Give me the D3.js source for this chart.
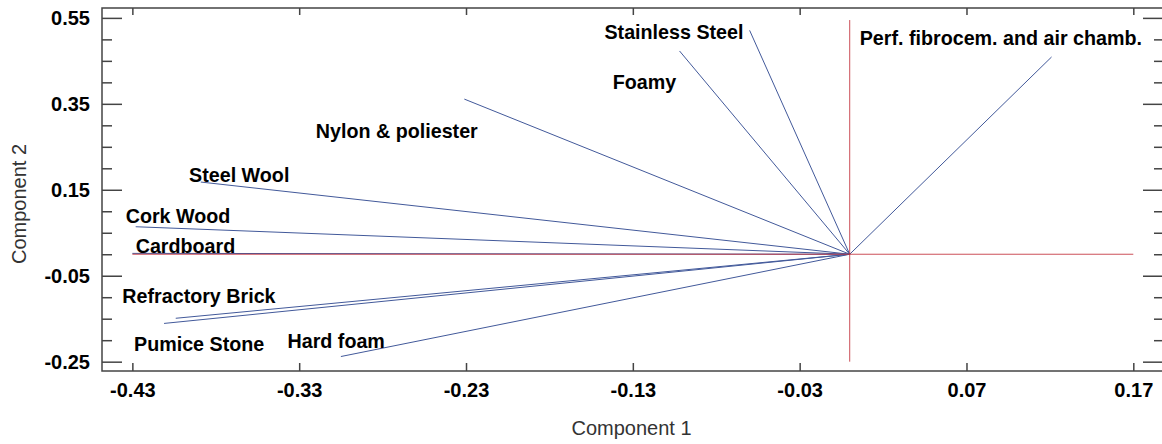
<!DOCTYPE html>
<html>
<head>
<meta charset="utf-8">
<script src="https://d3js.org/d3.v7.min.js"></script>
<style>
  body { margin: 0; background: #fff; }
  text { font-family: "Liberation Sans", Arial, sans-serif; }
</style>
</head>
<body>
<div id="biplot"></div>
<script>
//Data: loadings of each material on component 1 and 2
var materials = ["Stainless Steel", "Foamy", "Perf. fibrocem. and air chamb.", "Nylon & poliester",
    "Steel Wool", "Cork Wood", "Cardboard", "Refractory Brick", "Pumice Stone", "Hard foam"];
var comp1 = [-0.060, -0.102, 0.121, -0.231, -0.389, -0.428, -0.430, -0.404, -0.411, -0.305];
var comp2 = [0.521, 0.473, 0.459, 0.361, 0.168, 0.064, 0.002, -0.149, -0.161, -0.238];

//where the label text sits (data units, left edge / middle)
var labelX = [-0.147, -0.142, 0.006, -0.320, -0.396, -0.434, -0.428, -0.436, -0.429, -0.337];
var labelY = [0.517, 0.401, 0.503, 0.287, 0.185, 0.089, 0.019, -0.097, -0.209, -0.202];

//tick labels
var xTicks = [-0.43, -0.33, -0.23, -0.13, -0.03, 0.07, 0.17];
var yTicks = [0.55, 0.35, 0.15, -0.05, -0.25];
var yMinorTicks = [0.50, 0.45, 0.40, 0.30, 0.25, 0.20, 0.10, 0.05, 0.00, -0.10, -0.15, -0.20];

//svg size
var svgWidth = 1162;
var svgHeight = 444;

var svg = d3.select("#biplot")
    .append("svg")
    .attr("width", svgWidth)
    .attr("height", svgHeight);

//plot frame in pixels
var frame = {left: 102, right: 1163, top: 8, bottom: 371};

var xScale = d3.scaleLinear()
    .domain([-0.4482, 0.1878])
    .range([frame.left, frame.right]);

var yScale = d3.scaleLinear()
    .domain([-0.2717, 0.573])
    .range([frame.bottom, frame.top]);

var fmt = d => d.toFixed(2);
var axisColor = "#444";

//bottom axis (ticks point inside)
svg.append("g")
    .attr("transform", `translate(0, ${frame.bottom})`)
    .call(d3.axisBottom(xScale).tickValues(xTicks).tickFormat(fmt).tickSizeInner(-8).tickSizeOuter(0).tickPadding(12));

//top axis, ticks only
svg.append("g")
    .attr("transform", `translate(0, ${frame.top})`)
    .call(d3.axisTop(xScale).tickValues(xTicks).tickFormat("").tickSizeInner(-7).tickSizeOuter(0));

//left axis major + minor
svg.append("g")
    .attr("transform", `translate(${frame.left}, 0)`)
    .call(d3.axisLeft(yScale).tickValues(yTicks).tickFormat(fmt).tickSizeInner(-20).tickSizeOuter(0).tickPadding(12));

svg.append("g")
    .attr("transform", `translate(${frame.left}, 0)`)
    .call(d3.axisLeft(yScale).tickValues(yMinorTicks).tickFormat("").tickSizeInner(-10).tickSizeOuter(0));

//right axis major + minor
svg.append("g")
    .attr("transform", `translate(${frame.right}, 0)`)
    .call(d3.axisRight(yScale).tickValues(yTicks).tickFormat("").tickSizeInner(-20).tickSizeOuter(0));

svg.append("g")
    .attr("transform", `translate(${frame.right}, 0)`)
    .call(d3.axisRight(yScale).tickValues(yMinorTicks).tickFormat("").tickSizeInner(-9).tickSizeOuter(0));

//style all axes
svg.selectAll(".domain").remove();
svg.selectAll(".tick line")
    .attr("stroke", axisColor)
    .attr("stroke-width", 1.5);
svg.selectAll(".tick text")
    .attr("fill", "#000")
    .style("font-size", "20px")
    .style("font-weight", "bold");

//frame
svg.append("rect")
    .attr("x", frame.left)
    .attr("y", frame.top)
    .attr("width", frame.right - frame.left)
    .attr("height", frame.bottom - frame.top)
    .attr("fill", "none")
    .attr("stroke", axisColor)
    .attr("stroke-width", 1.5);

//vectors from origin
svg.selectAll(".vec")
    .data(materials)
    .enter()
    .append("line")
    .attr("class", "vec")
    .attr("x1", xScale(0))
    .attr("y1", yScale(0))
    .attr("x2", (d, i) => xScale(comp1[i]))
    .attr("y2", (d, i) => yScale(comp2[i]))
    .attr("stroke", "#42599a")
    .attr("stroke-width", 1);

//red reference axes through origin
svg.append("line")
    .attr("x1", xScale(xTicks[0]))
    .attr("x2", xScale(xTicks[xTicks.length - 1]))
    .attr("y1", yScale(0))
    .attr("y2", yScale(0))
    .attr("stroke", "#c4323c")
    .attr("stroke-width", 1)
    .attr("opacity", 0.85);

svg.append("line")
    .attr("x1", xScale(0))
    .attr("x2", xScale(0))
    .attr("y1", yScale(0.545))
    .attr("y2", yScale(-0.25))
    .attr("stroke", "#c4323c")
    .attr("stroke-width", 1)
    .attr("opacity", 0.85);

//material labels
svg.selectAll(".lbl")
    .data(materials)
    .enter()
    .append("text")
    .attr("class", "lbl")
    .attr("x", (d, i) => xScale(labelX[i]))
    .attr("y", (d, i) => yScale(labelY[i]))
    .attr("dy", "0.35em")
    .style("font-size", "19.7px")
    .style("font-weight", "bold")
    .attr("fill", "#000")
    .text(d => d);

//axis titles
svg.append("text")
    .attr("x", (frame.left + frame.right) / 2 - 1)
    .attr("y", 428)
    .attr("dy", "0.35em")
    .attr("text-anchor", "middle")
    .style("font-size", "20px")
    .attr("fill", "#333")
    .text("Component 1");

svg.append("text")
    .attr("transform", "translate(19, 204) rotate(-90)")
    .attr("dy", "0.35em")
    .attr("text-anchor", "middle")
    .style("font-size", "20px")
    .attr("fill", "#333")
    .text("Component 2");
</script>
</body>
</html>
